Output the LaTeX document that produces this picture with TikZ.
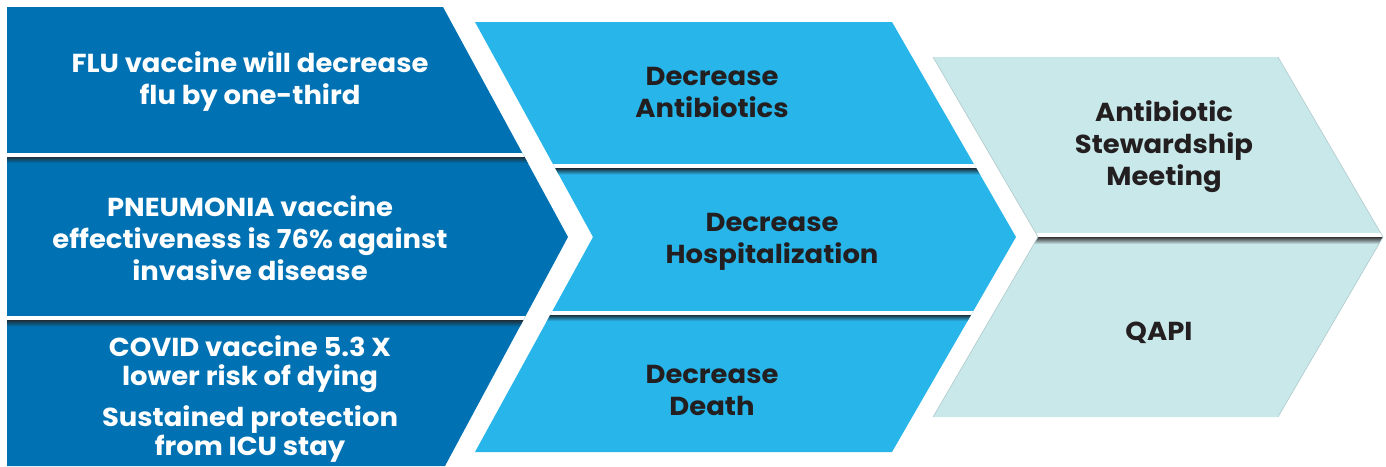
\documentclass[tikz,border=0pt]{standalone}
\usepackage{fontspec}
\setmainfont[FakeStretch=1.055]{Poppins}
\definecolor{dkblue}{HTML}{0072B3}
\definecolor{ltblue}{HTML}{28B5E9}
\definecolor{pale}{HTML}{C8E8EA}
\definecolor{txtdark}{HTML}{231F20}
\definecolor{shadowc}{HTML}{1C3340}
\definecolor{paleedge}{HTML}{AFC9CB}
\begin{document}
\begin{tikzpicture}[x=1pt,y=-1pt,
  lbl/.style={align=center, inner sep=0pt, font=\fontsize{26}{32}\selectfont\bfseries},
  lblw/.style={lbl, text=white},
  lbld/.style={lbl, text=txtdark}]
\useasboundingbox (0,0) rectangle (1386,466);
% group 1
\fill[dkblue] (7,7) -- (443,7) -- (568,237) -- (445,466) -- (7,466) -- cycle;
\begin{scope}
  \clip (7,7) -- (443,7) -- (568,237) -- (445,466) -- (7,466) -- cycle;
  \fill[white] (0,152.5) rectangle (700,157);
  \shade[top color=shadowc, bottom color=dkblue] (0,157) rectangle (700,163);
  \fill[white] (0,316) rectangle (700,320.5);
  \shade[top color=shadowc, bottom color=dkblue] (0,320.5) rectangle (700,326.5);
\end{scope}
% group 2
\fill[ltblue] (475,22) -- (892,22) -- (1016,237) -- (892,452) -- (475,452) -- (593,237) -- cycle;
\begin{scope}
  \clip (475,22) -- (892,22) -- (1016,237) -- (892,452) -- (475,452) -- (593,237) -- cycle;
  \fill[white] (400,164) rectangle (1100,168.5);
  \shade[top color=shadowc, bottom color=ltblue] (400,168.5) rectangle (1100,174.5);
  \fill[white] (400,310.5) rectangle (1100,315);
  \shade[top color=shadowc, bottom color=ltblue] (400,315) rectangle (1100,321);
\end{scope}
% group 3
\fill[pale] (933,57) -- (1278,57) -- (1383,237) -- (1278,417) -- (933,417) -- (1038,237) -- cycle;
\begin{scope}
  \clip (933,57) -- (1278,57) -- (1383,237) -- (1278,417) -- (933,417) -- (1038,237) -- cycle;
  \fill[white] (900,233) rectangle (1400,237.5);
  \shade[top color=black!75, bottom color=pale] (900,237.5) rectangle (1400,244);
\end{scope}
\draw[paleedge, line width=0.6pt] (933,57) -- (1038,237) -- (933,417);
\draw[paleedge, line width=0.6pt] (1278,57) -- (1383,237) -- (1278,417);
% texts
\node[lblw] (flu) at (250,82) {FLU vaccine will decrease\\flu by one-third};
\node[lblw] (pneu) at (250,238.5) {PNEUMONIA vaccine\\effectiveness is 76\% against\\invasive disease};
\node[lblw, font=\fontsize{26}{29}\selectfont\bfseries] (covid) at (250,399) {COVID vaccine 5.3 X\\lower risk of dying\\[12pt]Sustained protection\\from ICU stay};
\node[lbld] (antib) at (712,92) {Decrease\\Antibiotics};
\node[lbld] (hosp) at (772,242) {Decrease\\Hospitalization};
\node[lbld] (death) at (712,390) {Decrease\\Death};
\node[lbld] (stew) at (1164,147) {Antibiotic\\Stewardship\\Meeting};
\node[lbld] (qapi) at (1159,333) {QAPI};
\end{tikzpicture}
\end{document}
